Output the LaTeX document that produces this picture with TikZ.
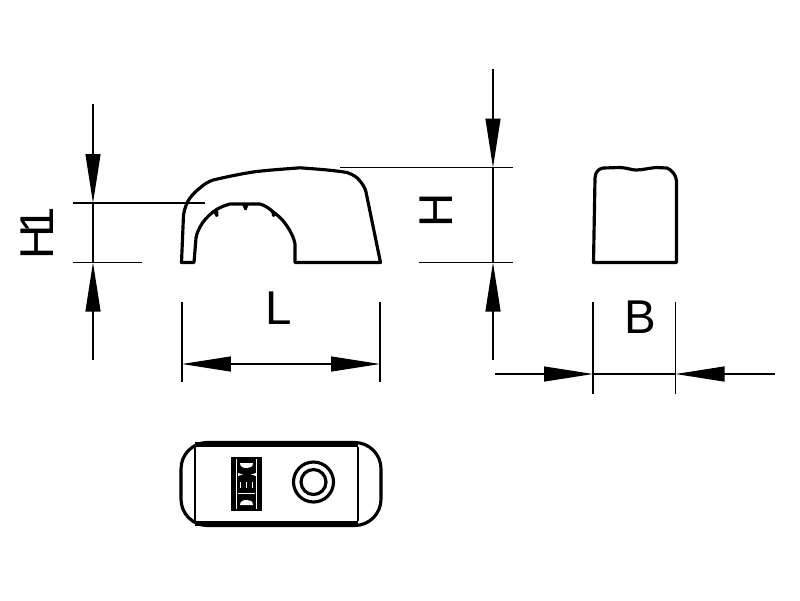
\documentclass[tikz,border=0pt]{standalone}
\usepackage{fontspec}
\setmainfont{Liberation Sans}
\usetikzlibrary{arrows.meta}
\tikzset{
  part/.style={line width=1.8pt,line join=round,line cap=round},
  thin part/.style={line width=1.2pt},
  ext/.style={line width=0.7pt,black},
  dimline/.style={line width=0.7pt,black},
  headend/.style={-{Triangle[length=0.98cm,width=0.3cm]}},
  headboth/.style={{Triangle[length=0.98cm,width=0.3cm]}-{Triangle[length=0.98cm,width=0.3cm]}},
  dimtext/.style={font=\fontsize{27}{27}\selectfont,inner sep=0pt,text=black},
}
\begin{document}
\begin{tikzpicture}[x=0.02cm,y=-0.02cm]
\useasboundingbox[fill=white] (0,0) rectangle (800,600);

% front view
\draw[part] (181.5,262.5) -- (183.5,215)
  .. controls (185,207) and (187,202) .. (190,198)
  .. controls (193,194) and (196,191) .. (200,188)
  .. controls (204,184) and (208,182) .. (213,180)
  .. controls (226,177) and (240,174) .. (253,172)
  .. controls (268,170) and (285,169) .. (300,167.8)
  .. controls (316,169) and (332,170) .. (347,172.5)
  .. controls (353,174.5) and (357,177) .. (360,181)
  .. controls (363,184.5) and (365,188) .. (366,192)
  -- (380.5,262.5) -- (295,262.5) -- (295,244)
  .. controls (294,238) and (291,232) .. (287,226)
  .. controls (283,220) and (279,216) .. (273,212)
  .. controls (269,208) and (265,205.5) .. (260,204)
  -- (230,204)
  .. controls (224,205.5) and (218,208) .. (213,212)
  .. controls (208,216) and (203,221) .. (200,227)
  .. controls (198,231) and (196.5,234) .. (196,238)
  -- (194,262.5) -- cycle;
\fill (242,204) -- (249,204) -- (246.5,210) -- (244.5,210) -- cycle;
\fill (212.5,211) -- (218,208.5) -- (218.5,216) -- (216,217) -- cycle;
\fill (271,208.5) -- (277,213) -- (274,217) -- (272,216) -- cycle;

% side view
\draw[part] (593.5,262.5) -- (595,178) .. controls (595.5,172) and (598,169) .. (603,168)
  -- (620,167.5) .. controls (628,168) and (632,170) .. (636,170)
  .. controls (642,170) and (650,168) .. (656,167.5) -- (667,168)
  .. controls (672,170) and (676,175) .. (676.5,181) -- (676.5,262.5) -- cycle;

% top view
\draw[part,rounded corners=15] (181,442.5) rectangle (381,525.5);
\fill (195,442) rectangle (358,447);
\fill (195,521) rectangle (358,526);
\draw[thin part] (195,447) -- (195,521) (358,447) -- (358,521);

% logo
\fill (231,457) rectangle (262,511);
\fill[white] (240,463) -- (253,463) .. controls (253,467) and (250,468) .. (247,468) .. controls (243,468) and (240,467) .. (240,463) -- cycle;
\fill[white] (240,505) -- (253,505) .. controls (253,501) and (250,500) .. (247,500) .. controls (243,500) and (240,501) .. (240,505) -- cycle;
\fill[white] (238,473) -- (243,474.5) -- (238,476) -- cycle;
\fill[white] (256,473) -- (251,474.5) -- (256,476) -- cycle;
\fill[white] (240,482) rectangle (241.2,488);
\fill[white] (246,482) rectangle (247.2,488);
\fill[white] (252,482) rectangle (253.2,488);
\fill[white] (238,493) rectangle (255,494.2);
\fill[white] (236,459) rectangle (236.8,509);
\fill[white] (256.4,459) rectangle (257.2,509);

% bolt hole
\draw[part] (313.5,482) circle (20);
\draw[part] (313.5,482) circle (12.5);

% dimension anchors
\coordinate (h1a) at (93,104);
\coordinate (h1b) at (93,203);
\coordinate (h1c) at (93,262.5);
\coordinate (h1d) at (93,360);
\coordinate (ha) at (493,69);
\coordinate (hb) at (493,167.5);
\coordinate (hc) at (493,262.5);
\coordinate (hd) at (493,360);
\coordinate (la) at (182,364);
\coordinate (lb) at (380,364);
\coordinate (ba) at (495,374);
\coordinate (bb) at (593,374);
\coordinate (bc) at (675.5,374);
\coordinate (bd) at (775,374);

% extension lines
\draw[ext] (73,203) -- (205,203);
\draw[ext] (73,262.5) -- (142,262.5);
\draw[ext] (340,167.5) -- (513,167.5);
\draw[ext] (419,262.5) -- (513,262.5);
\draw[ext] (182,302) -- (182,382);
\draw[ext] (380,302) -- (380,382);
\draw[ext] (593,302) -- (593,394);
\draw[ext] (675.5,302) -- (675.5,394);

% dimension lines
\draw[dimline,headend] (h1a) -- (h1b);
\draw[dimline] (h1b) -- (h1c);
\draw[dimline,headend] (h1d) -- (h1c);
\draw[dimline,headend] (ha) -- (hb);
\draw[dimline] (hb) -- (hc);
\draw[dimline,headend] (hd) -- (hc);
\draw[dimline,headboth] (la) -- (lb);
\draw[dimline,headend] (ba) -- (bb);
\draw[dimline] (bb) -- (bc);
\draw[dimline,headend] (bd) -- (bc);

% labels
\node[dimtext,rotate=90] (h1) at (37.5,233) {H\kern-0.17cm 1};
\node[dimtext,rotate=90] (h) at (436,210) {H};
\node[dimtext] (l) at (279,308) {L};
\node[dimtext] (b) at (640,317) {B};
\end{tikzpicture}
\end{document}
